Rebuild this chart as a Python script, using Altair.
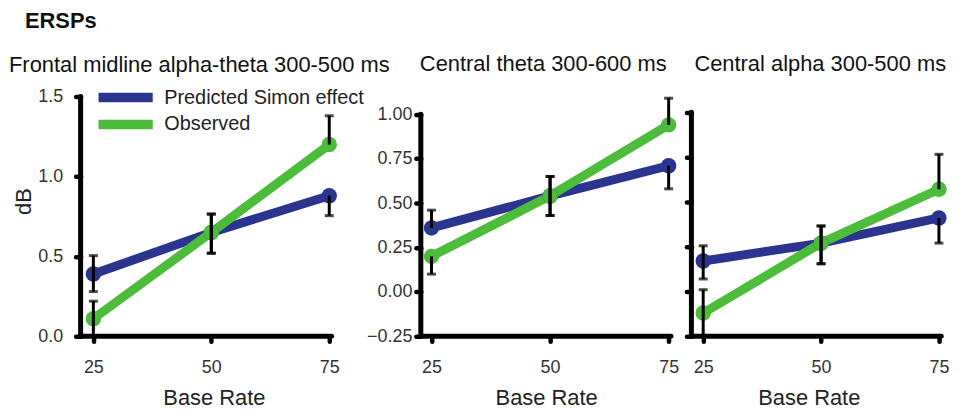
import altair as alt
import pandas as pd

# ---------------- data ----------------
base_rate = [25, 50, 75]
series_names = ["Predicted Simon effect", "Observed"]
panel_titles = [
    "Frontal midline alpha-theta 300-500 ms",
    "Central theta 300-600 ms",
    "Central alpha 300-500 ms",
]

# Frontal midline alpha-theta
fm_pred = [0.39, 0.65, 0.88]
fm_obs = [0.11, 0.65, 1.20]
fm_pred_lo = [0.28, 0.52, 0.755]
fm_pred_hi = [0.505, 0.765, 0.88]
fm_obs_lo = [0.0, 0.52, 1.20]
fm_obs_hi = [0.22, 0.765, 1.38]

# Central theta
ct_pred = [0.36, 0.54, 0.71]
ct_obs = [0.20, 0.54, 0.94]
ct_pred_lo = [0.36, 0.43, 0.58]
ct_pred_hi = [0.46, 0.65, 0.71]
ct_obs_lo = [0.10, 0.43, 0.94]
ct_obs_hi = [0.20, 0.65, 1.09]

# Central alpha
ca_pred = [0.17, 0.27, 0.41]
ca_obs = [-0.12, 0.27, 0.57]
ca_pred_lo = [0.07, 0.155, 0.27]
ca_pred_hi = [0.255, 0.365, 0.41]
ca_obs_lo = [-0.25, 0.155, 0.57]
ca_obs_hi = [0.01, 0.365, 0.765]

y_ticks_fm = [0.0, 0.5, 1.0, 1.5]
y_ticks_c = [-0.25, 0.0, 0.25, 0.5, 0.75, 1.0]
x_ticks = [25, 50, 75]

# ---------------- style ----------------
BLUE = "#2b3590"
GREEN = "#4cbc3a"
FONT = "Liberation Sans"
H = 241

panels = [
    dict(pred=fm_pred, obs=fm_obs, plo=fm_pred_lo, phi=fm_pred_hi, olo=fm_obs_lo, ohi=fm_obs_hi,
         ydom=[0.0, 1.5], yticks=y_ticks_fm, fmt=".1f", labels=True, ytitle="dB", lpad=13,
         xlo=22.3, xhi=92.3, width=332, title_dx=-72, title_dy=3, xtitle_x=134),
    dict(pred=ct_pred, obs=ct_obs, plo=ct_pred_lo, phi=ct_pred_hi, olo=ct_obs_lo, ohi=ct_obs_hi,
         ydom=[-0.25, 1.099], yticks=y_ticks_c, fmt=".2f", labels=True, ytitle=None, lpad=4,
         xlo=22.75, xhi=77.7, width=262, title_dx=-1, title_dy=-7, xtitle_x=126),
    dict(pred=ca_pred, obs=ca_obs, plo=ca_pred_lo, phi=ca_pred_hi, olo=ca_obs_lo, ohi=ca_obs_hi,
         ydom=[-0.25, 1.087], yticks=y_ticks_c, fmt=".2f", labels=False, ytitle=None, lpad=4,
         xlo=22.5, xhi=76.3, width=255, title_dx=3, title_dy=-7, xtitle_x=118),
]


def make_panel(i, p):
    rows = []
    for s, vals, lo, hi in [(series_names[0], p["pred"], p["plo"], p["phi"]),
                            (series_names[1], p["obs"], p["olo"], p["ohi"])]:
        for x, v, l, h in zip(base_rate, vals, lo, hi):
            rows.append({"rate": x, "value": v, "lo": l, "hi": h, "series": s})
    df = pd.DataFrame(rows)

    xscale = alt.Scale(domain=[p["xlo"], p["xhi"]], nice=False, zero=False)
    yscale = alt.Scale(domain=p["ydom"], nice=False, zero=False)
    xaxis = alt.Axis(values=x_ticks, title="Base Rate", titleX=p["xtitle_x"], titleY=62,
                     titleBaseline="middle", titleAnchor="start", titleAlign="center",
                     labelPadding=17)
    yaxis_kw = dict(values=p["yticks"], format=p["fmt"], labels=p["labels"],
                    labelPadding=p["lpad"])
    if p["ytitle"]:
        yaxis_kw.update(title=p["ytitle"], titleX=-45, titleY=105, titleAnchor="start",
                        titleAlign="center", titleBaseline="bottom")
    else:
        yaxis_kw.update(title=None)
    yaxis = alt.Axis(**yaxis_kw)

    color = alt.Color("series:N", scale=alt.Scale(domain=series_names, range=[BLUE, GREEN]),
                      legend=alt.Legend(title=None, orient="none", legendX=18, legendY=-10,
                                        symbolType="M-13.75,0L13.75,0", symbolSize=16,
                                        symbolOffset=17,
                                        symbolStrokeWidth=9.5, labelFont=FONT, labelFontSize=20,
                                        labelColor="#222", labelOffset=29, rowPadding=5,
                                        clipHeight=22, labelLimit=400, padding=0))

    base = alt.Chart(df)

    axis_df = pd.DataFrame({
        "x": [p["xlo"], p["xlo"]], "x2": [p["xlo"], 75.5],
        "y": [p["ydom"][0], p["ydom"][0]], "y2": [p["yticks"][-1], p["ydom"][0]],
    })
    axis_lines = alt.Chart(axis_df).mark_rule(color="black", strokeWidth=5, strokeCap="round").encode(
        x=alt.X("x:Q", scale=xscale, axis=xaxis),
        x2="x2:Q",
        y=alt.Y("y:Q", scale=yscale, axis=yaxis),
        y2="y2:Q",
    )

    lines = base.mark_line(strokeWidth=9, strokeCap="round").encode(
        x=alt.X("rate:Q", scale=xscale),
        y=alt.Y("value:Q", scale=yscale),
        color=color,
        detail="series:N",
    )
    points = base.mark_point(filled=True, size=240, opacity=1).encode(
        x=alt.X("rate:Q", scale=xscale),
        y=alt.Y("value:Q", scale=yscale),
        color=alt.Color("series:N", scale=alt.Scale(domain=series_names, range=[BLUE, GREEN]),
                        legend=None),
    )
    bars = base.mark_rule(color="black", strokeWidth=3).encode(
        x=alt.X("rate:Q", scale=xscale),
        y=alt.Y("lo:Q", scale=yscale),
        y2="hi:Q",
    )
    caps_hi = base.transform_filter("datum.hi > datum.value").mark_tick(
        color="black", thickness=3, size=9, orient="horizontal").encode(
        x=alt.X("rate:Q", scale=xscale), y=alt.Y("hi:Q", scale=yscale))
    caps_lo = base.transform_filter("datum.lo < datum.value").mark_tick(
        color="black", thickness=3, size=9, orient="horizontal").encode(
        x=alt.X("rate:Q", scale=xscale), y=alt.Y("lo:Q", scale=yscale))

    return alt.layer(axis_lines, lines, points, bars, caps_hi, caps_lo).properties(
        width=p["width"], height=H,
        title=alt.TitleParams(panel_titles[i], anchor="start", frame="group",
                              dx=p["title_dx"], dy=p["title_dy"],
                              font=FONT, fontSize=22, fontWeight="normal", color="#111",
                              offset=14),
    )


chart = alt.hconcat(*[make_panel(i, p) for i, p in enumerate(panels)], spacing=10, bounds="flush").properties(
    title=alt.TitleParams("ERSPs", anchor="start", dx=16, font=FONT, fontSize=22,
                          fontWeight="bold", color="#111", offset=20),
    padding={"left": 1, "top": 1, "right": 0, "bottom": 0},
).configure_view(stroke=None).configure_axis(
    domain=False, grid=False, tickColor="black", tickWidth=4.5, tickSize=5, tickCap="round",
    labelFont=FONT, labelFontSize=18, labelColor="#333",
    titleFont=FONT, titleFontSize=22, titleFontWeight="normal", titleColor="#222",
).configure_tick(bandSize=9)

chart.save("out.html", embed_options={"renderer": "svg", "actions": False})
